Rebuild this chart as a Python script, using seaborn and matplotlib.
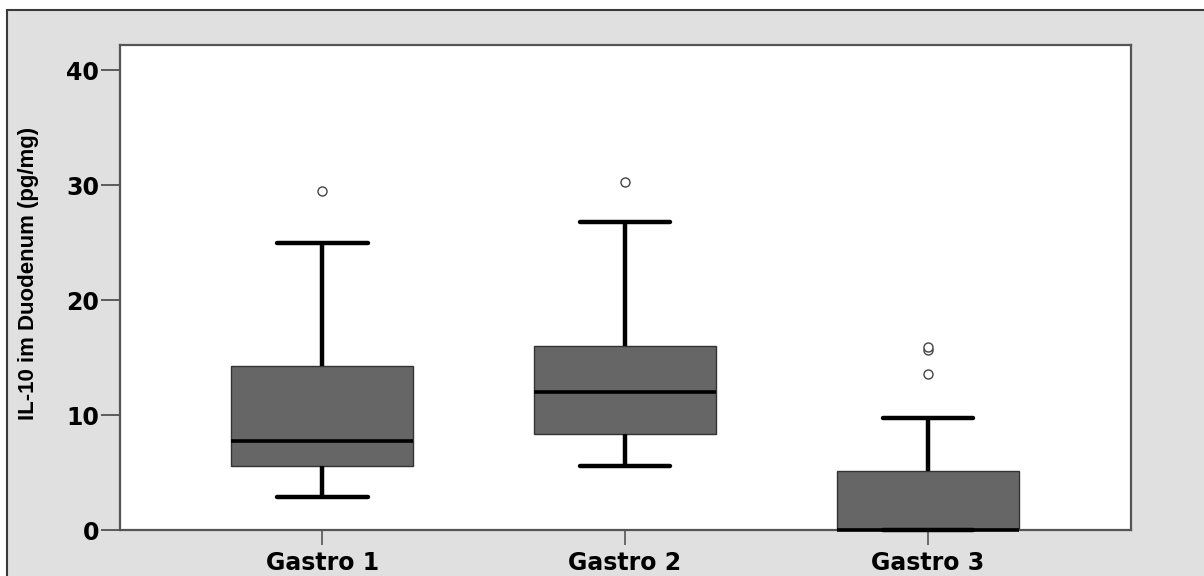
import numpy as np
import pandas as pd
import matplotlib
matplotlib.use("Agg")
import matplotlib.pyplot as plt
from matplotlib.patches import Rectangle
import seaborn as sns

# IL-10 measurements (pg/mg) per group
groups = ["Gastro 1", "Gastro 2", "Gastro 3"]
gastro1 = [2.87, 4.0, 5.57, 6.5, 7.74, 10.0, 14.26, 24.96, 29.5]
gastro2 = [5.57, 7.0, 8.35, 10.0, 12.0, 14.0, 16.0, 26.78, 30.26]
gastro3 = [0, 0, 0, 0, 0, 0, 0, 0, 0, 1.0, 2.5, 4.0, 5.13, 9.74, 13.57, 15.65, 15.9]
y_ticks = [0, 10, 20, 30, 40]
y_label = "IL-10 im Duodenum (pg/mg)"

df = pd.DataFrame({
    "group": [groups[0]] * len(gastro1) + [groups[1]] * len(gastro2) + [groups[2]] * len(gastro3),
    "value": gastro1 + gastro2 + gastro3,
})

sns.set_style("white")
plt.rcParams["font.family"] = ["DejaVu Sans"]
plt.rcParams["text.color"] = "black"
plt.rcParams["axes.labelcolor"] = "black"
plt.rcParams["xtick.color"] = "black"
plt.rcParams["ytick.color"] = "black"

fig = plt.figure(figsize=(12.04, 5.76), dpi=100, facecolor="white")
# grey chart frame (open to the right and bottom)
fig.add_artist(Rectangle((7 / 1204, -0.05), 1.2, (576 - 10) / 576 + 0.05,
                         transform=fig.transFigure, facecolor="#e0e0e0",
                         edgecolor="#3a3a3a", linewidth=1.5, zorder=0))

ax = fig.add_axes([120 / 1204, 46 / 576, 1011 / 1204, 485 / 576])
ax.set_facecolor("white")

sns.boxplot(
    data=df, x="group", y="value", order=groups, ax=ax,
    color="#666666", saturation=1, width=0.6, whis=1.5,
    boxprops=dict(edgecolor="#333333", linewidth=1.0),
    whiskerprops=dict(color="black", linewidth=3.2),
    capprops=dict(color="black", linewidth=3.2),
    medianprops=dict(color="black", linewidth=2.6, zorder=6),
    flierprops=dict(marker="o", markersize=6.5, markerfacecolor="white",
                    markeredgecolor="#444444", markeredgewidth=1.0),
)

ax.set_xlim(-0.667, 2.67)
ax.set_ylim(0, 42.2)
ax.set_yticks(y_ticks)
ax.set_yticklabels([str(t) for t in y_ticks])
ax.set_xlabel("")
ax.set_ylabel(y_label, fontsize=16, fontweight="bold",
              family=["Liberation Sans", "DejaVu Sans"], color="black")
ax.yaxis.set_label_coords(-0.08, 0.53)

for s in ax.spines.values():
    s.set_visible(True)
    s.set_color("#555555")
    s.set_linewidth(1.6)
    s.set_zorder(3)

ax.tick_params(axis="y", direction="out", length=14, width=1.2, color="#444444",
               pad=1, left=True)
ax.tick_params(axis="x", direction="out", length=11, width=1.2, color="#555555",
               pad=4, bottom=True)
for lab in ax.get_yticklabels():
    lab.set_fontsize(17)
    lab.set_fontweight("bold")
    lab.set_color("black")
for lab in ax.get_xticklabels():
    lab.set_fontsize(17)
    lab.set_fontweight("bold")
    lab.set_color("black")

for line in ax.lines:
    line.set_clip_on(False)

fig.savefig("out.png", dpi=100, facecolor="white")
